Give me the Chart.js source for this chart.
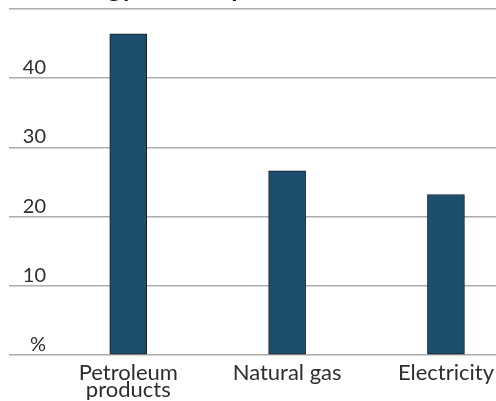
<!DOCTYPE html>
<html>
<head>
<meta charset="utf-8">
<script src="https://cdn.jsdelivr.net/npm/chart.js@4/dist/chart.umd.min.js"></script>
<style>
  html, body { margin: 0; padding: 0; background: #fff; overflow: hidden; }
  #wrap { position: relative; width: 496px; height: 401px; }
</style>
</head>
<body>
<div id="wrap"><canvas id="c" width="496" height="401"></canvas></div>
<script>
// Share of energy consumption by source (%)
const categories = [["Petroleum", "products"], "Natural gas", "Electricity"];
const shares = [46.4, 26.6, 23.2];
const yTickValues = [0, 10, 20, 30, 40, 50];
const chartTitle = "Energy consumption";

const FONT = "Lato, 'Open Sans', sans-serif";
const TEXT = "#2e2e2e";
const GRID = "#acacac";

function yLabel(v) {
  if (v === 0) return "%";
  if (v === 50) return "";
  return String(v);
}

// Value labels for the y axis: right-aligned, sitting just above each gridline
const yLabelPlugin = {
  id: "yLabels",
  afterDraw(chart) {
    const y = chart.scales.y;
    const ctx = chart.ctx;
    ctx.save();
    ctx.font = "20px " + FONT;
    ctx.fillStyle = TEXT;
    ctx.textAlign = "right";
    ctx.textBaseline = "alphabetic";
    y.ticks.forEach(t => {
      const txt = yLabel(t.value);
      if (txt) ctx.fillText(txt, 46, y.getPixelForValue(t.value) - 4);
    });
    ctx.restore();
  }
};

// Heading, mostly above the visible area
const titlePlugin = {
  id: "topTitle",
  afterDraw(chart) {
    const ctx = chart.ctx;
    ctx.save();
    ctx.font = "bold 26px " + FONT;
    ctx.fillStyle = "#1a1a1a";
    ctx.textAlign = "left";
    ctx.textBaseline = "alphabetic";
    ctx.fillText(chartTitle, 55, -3);
    ctx.restore();
  }
};

new Chart(document.getElementById("c"), {
  type: "bar",
  data: {
    datasets: [{
      data: shares.map((v, i) => ({ x: i, y: v })),
      backgroundColor: "#1e4e6e",
      borderColor: "#101c24",
      borderWidth: 1,
      borderSkipped: false,
      barThickness: 37
    }]
  },
  options: {
    responsive: false,
    devicePixelRatio: 1,
    animation: false,
    layout: { padding: { left: 9, right: 0, top: 9, bottom: 1 } },
    plugins: { legend: { display: false }, tooltip: { enabled: false }, title: { display: false } },
    scales: {
      x: {
        type: "linear",
        offset: false,
        min: -0.751,
        max: 2.315,
        afterBuildTicks: s => { s.ticks = categories.map((c, i) => ({ value: i })); },
        grid: { display: false },
        border: { display: false },
        ticks: {
          autoSkip: false,
          maxRotation: 0,
          minRotation: 0,
          padding: 2,
          color: TEXT,
          font: { family: FONT, size: 22, lineHeight: 0.75 },
          callback: v => categories[v]
        }
      },
      y: {
        min: 0,
        max: 50,
        afterBuildTicks: s => { s.ticks = yTickValues.map(v => ({ value: v })); },
        grid: { color: GRID, lineWidth: 1.5, drawTicks: false },
        border: { display: false },
        ticks: { display: false }
      }
    }
  },
  plugins: [yLabelPlugin, titlePlugin]
});
</script>
</body>
</html>
